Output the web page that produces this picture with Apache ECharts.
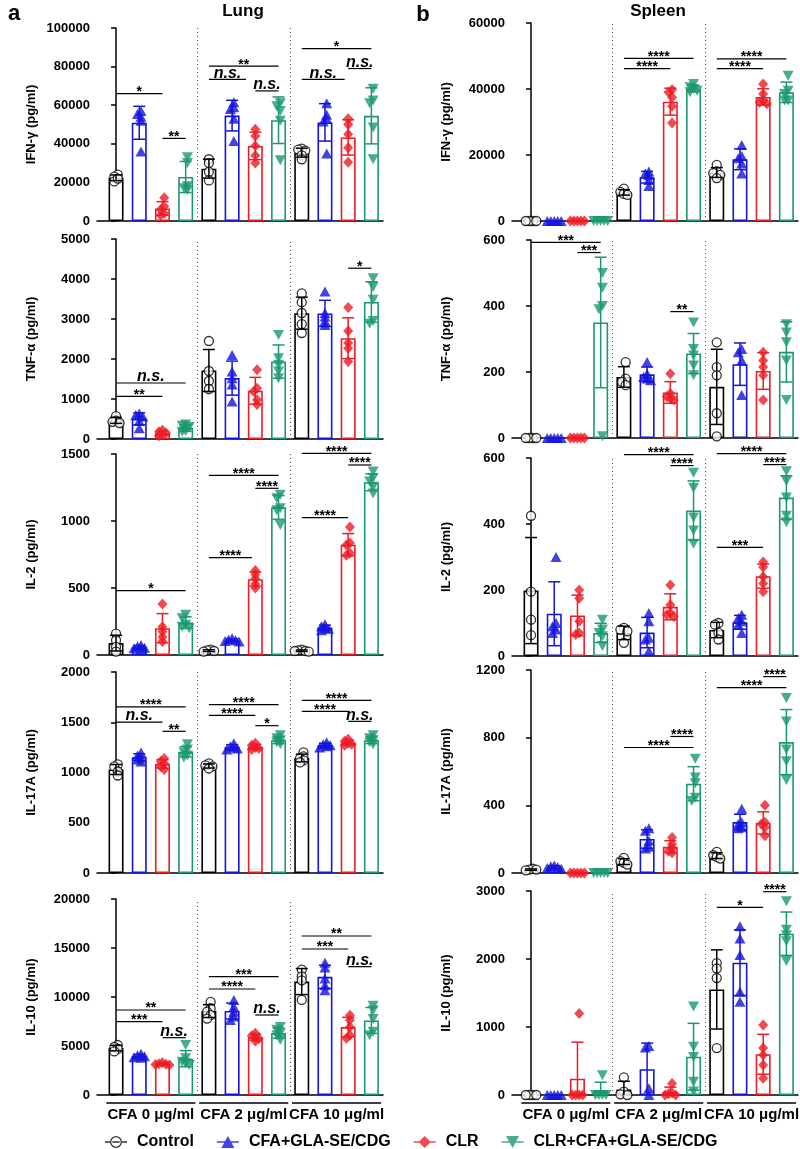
<!DOCTYPE html>
<html><head><meta charset="utf-8">
<script src="https://cdn.jsdelivr.net/npm/echarts@6/dist/echarts.min.js"></script>
<style>html,body{margin:0;padding:0;background:#fff}#c{width:800px;height:1149px}</style>
</head><body><div id="c"></div>
<script>
// ---------------- DATA ----------------
const groups = ['CFA 0 μg/ml', 'CFA 2 μg/ml', 'CFA 10 μg/ml'];
const treatments = ['Control', 'CFA+GLA-SE/CDG', 'CLR', 'CLR+CFA+GLA-SE/CDG'];
const organs = ['Lung', 'Spleen'];
const yNames = ['IFN-γ (pg/ml)', 'TNF-α (pg/ml)', 'IL-2 (pg/ml)', 'IL-17A (pg/ml)', 'IL-10 (pg/ml)'];
const lungYMax = [100000, 5000, 1500, 2000, 20000];
const lungYStep = [20000, 1000, 500, 500, 5000];
const spleenYMax = [60000, 600, 600, 1200, 3000];
const spleenYStep = [20000, 200, 200, 400, 1000];

// points per bar, order: [CFA0: Ctrl, CFA+GLA, CLR, CLR+CFA], [CFA2: ...], [CFA10: ...]
const lungIFNg = [
  [24000, 23000, 20500, 22000], [57000, 55500, 54000, 52000, 36000], [12000, 7500, 6000, 4000, 3000], [33000, 30000, 18000, 17000, 16000],
  [32000, 30000, 25500, 21000], [61500, 59000, 58000, 53000, 41500], [47500, 44000, 39000, 34000, 30000], [61000, 59500, 57000, 52000, 31500],
  [37500, 37000, 36500, 34000, 32000], [61000, 55000, 53000, 51500, 35000], [53000, 50000, 45000, 38000, 30500], [68500, 62500, 61000, 48500, 32000]
];
const spleenIFNg = [
  [0, 0, 0, 0], [0, 0, 0, 0, 0], [0, 0, 0, 0, 0], [0, 0, 0, 0, 0],
  [9800, 8800, 8200, 7900], [15000, 14400, 13900, 12400, 10600], [39800, 39000, 37500, 34800, 29700], [41500, 40500, 40000, 39500, 39000],
  [17000, 15000, 14500, 14000, 13000], [23000, 19700, 19000, 17400, 14400], [41500, 38500, 36500, 36000, 35500], [44000, 39500, 38500, 36500, 36500]
];
const lungTNFa = [
  [570, 460, 430, 400], [640, 600, 560, 450, 270], [220, 180, 150, 120, 80], [360, 330, 300, 200, 180],
  [2450, 1700, 1450, 1250], [2100, 1690, 1520, 1360, 940], [1730, 1270, 1190, 980, 860], [2600, 2020, 1850, 1690, 1520],
  [3640, 3420, 3150, 2870, 2650], [3690, 3150, 3060, 2950, 2850], [3290, 2700, 2400, 2270, 1940], [4020, 3800, 3480, 2950, 2880]
];
const spleenTNFa = [
  [0, 0, 0, 0], [0, 0, 0, 0, 0], [0, 0, 0, 0, 0], [500, 455, 400, 390, 5],
  [230, 180, 170, 160], [230, 195, 185, 180, 175], [195, 135, 125, 120, 115], [350, 270, 250, 220, 190],
  [290, 215, 190, 75, 5], [270, 260, 235, 130], [260, 235, 215, 190, 115], [345, 320, 290, 235, 115]
];
const lungIL2 = [
  [160, 110, 60, 25], [75, 65, 55, 50, 45], [380, 210, 175, 135, 100], [300, 275, 225, 210, 200],
  [40, 35, 30, 25], [125, 115, 110, 105, 100], [630, 600, 570, 530, 500], [1195, 1170, 1095, 1080, 970],
  [40, 35, 30, 30, 25], [230, 215, 200, 195, 185], [955, 835, 820, 760, 745], [1370, 1320, 1295, 1255, 1205]
];
const spleenIL2 = [
  [425, 195, 110, 63], [300, 100, 90, 80, 70], [200, 175, 105, 70, 65], [110, 80, 70, 60, 30],
  [85, 80, 75, 40], [130, 105, 55, 50, 15], [215, 155, 130, 125, 120], [555, 510, 420, 380, 340],
  [100, 95, 70, 50], [125, 115, 105, 95, 70], [285, 270, 240, 220, 195], [560, 530, 480, 425, 405]
];
const lungIL17A = [
  [1080, 1060, 1010, 970], [1200, 1170, 1150, 1130, 1110], [1140, 1110, 1090, 1060, 1030], [1280, 1230, 1200, 1170, 1150],
  [1090, 1070, 1060, 1040], [1290, 1260, 1250, 1240, 1230], [1290, 1270, 1250, 1240, 1230], [1370, 1340, 1320, 1300, 1280],
  [1200, 1160, 1140, 1120, 1100], [1300, 1280, 1270, 1260, 1250], [1330, 1310, 1290, 1280, 1270], [1370, 1340, 1320, 1300, 1280]
];
const spleenIL17A = [
  [25, 20, 20, 15], [45, 40, 35, 30, 25], [0, 0, 0, 0, 0], [0, 0, 0, 0, 0],
  [90, 70, 60, 50], [265, 250, 190, 155, 145], [210, 170, 145, 130, 120], [675, 565, 530, 445, 425],
  [125, 105, 95, 85], [380, 300, 290, 270, 265], [400, 300, 290, 270, 220], [1035, 895, 730, 660, 550]
];
const lungIL10 = [
  [5100, 4900, 4700, 4450], [4200, 4050, 3950, 3850, 3800], [3300, 3200, 3150, 3100, 3050], [5100, 3750, 3400, 3250, 3050],
  [9500, 8850, 8500, 8150, 7800], [9700, 9000, 8500, 8000, 7650], [6300, 6050, 5900, 5750, 5500], [6950, 6650, 6300, 6100, 5600],
  [12800, 12100, 11700, 9700], [13500, 13000, 11900, 11200, 10700], [8150, 7650, 6950, 6100, 5800], [9100, 8650, 7750, 6450, 6100]
];
const spleenIL10 = [
  [0, 0, 0, 0], [0, 0, 0, 0, 0], [1200, 0, 0, 0, 0], [290, 0, 0, 0, 0],
  [260, 50, 10, 0], [720, 700, 100, 0], [170, 30, 20, 0, 0], [1300, 710, 560, 195, 50],
  [1940, 1860, 1720, 690], [2480, 2300, 2060, 1520, 1370], [1030, 690, 590, 440, 245], [2850, 2430, 2350, 2260, 1970]
];

// significance brackets: [fromBar, toBar, level, label]
const lungIFNgSig = [[0, 2, 66000, '*'], [2, 3, 42800, '**'], [4, 7, 80200, '**'], [4, 5.6, 73400, 'n.s.'], [6, 7, 67400, 'n.s.'], [8, 11, 89300, '*'], [8, 9.85, 73400, 'n.s.'], [10, 11, 79000, 'n.s.']];
const spleenIFNgSig = [[4, 6, 46200, '****'], [4, 7, 49300, '****'], [8, 10, 46200, '****'], [8, 11, 49100, '****']];
const lungTNFaSig = [[0, 3, 1400, 'n.s.'], [0, 2, 1065, '**'], [10, 11, 4270, '*']];
const spleenTNFaSig = [[0, 3, 593, '***'], [2, 3, 562, '***'], [6, 7, 383, '**']];
const lungIL2Sig = [[0, 3, 480, '*'], [4, 5.85, 726, '****'], [4, 7, 1341, '****'], [6, 7, 1244, '****'], [8, 10, 1025, '****'], [8, 11, 1505, '****'], [10, 11, 1418, '****']];
const spleenIL2Sig = [[4, 7, 610, '****'], [6, 7, 577, '****'], [8, 10, 329, '***'], [8, 11, 613, '****'], [10, 11, 580, '****']];
const lungIL17ASig = [[0, 3, 1652, '****'], [0, 2, 1502, 'n.s.'], [2, 3, 1410, '**'], [4, 7, 1675, '****'], [4, 6, 1569, '****'], [6, 7, 1466, '*'], [8, 11, 1718, '****'], [8, 10, 1609, '****'], [10, 11, 1509, 'n.s.']];
const spleenIL17ASig = [[4, 7, 742, '****'], [6, 7, 807, '****'], [8, 11, 1096, '****'], [10, 11, 1161, '****']];
const lungIL10Sig = [[0, 3, 8673, '**'], [0, 2, 7483, '***'], [2, 3, 5850, 'n.s.'], [4, 7, 12075, '***'], [4, 6, 10816, '****'], [6, 7, 8163, 'n.s.'], [8, 11, 16224, '**'], [8, 10, 14898, '***'], [10, 11, 13095, 'n.s.']];
const spleenIL10Sig = [[8, 10, 2760, '*'], [10, 11, 2990, '****']];

// ---------------- LAYOUT / STYLE ----------------
const FONT = '"Liberation Sans", Arial, sans-serif';
const colors = ['#000000', '#1414dc', '#ee1c25', '#1a9870'];
const colLeft = [97, 512];
const gridW = 286;
const rowTB = [
  [[28, 221], [23, 221]],
  [[239, 439], [240, 438]],
  [[454, 655], [458, 656]],
  [[672, 873], [670, 873]],
  [[899, 1095], [891, 1095]]
];
const lungPts = [lungIFNg, lungTNFa, lungIL2, lungIL17A, lungIL10];
const spleenPts = [spleenIFNg, spleenTNFa, spleenIL2, spleenIL17A, spleenIL10];
const lungSig = [lungIFNgSig, lungTNFaSig, lungIL2Sig, lungIL17ASig, lungIL10Sig];
const spleenSig = [spleenIFNgSig, spleenTNFaSig, spleenIL2Sig, spleenIL17ASig, spleenIL10Sig];

const downTri = 'path://M0,0L10,0L5,9Z';
const symbols = ['circle', 'triangle', 'diamond', downTri];
const symSizes = [9, [11, 10], [10, 11], [11, 10]];

const legendIcons = [
  'path://M0,5.3H5V6.7H0Z M17,5.3H22V6.7H17Z M7.3,5.3H14.7V6.7H7.3Z M17,6A6,6 0 1 0 5,6A6,6 0 1 0 17,6Z M15.7,6A4.7,4.7 0 1 1 6.3,6A4.7,4.7 0 1 1 15.7,6Z',
  'path://M0,5.3H22V6.7H0Z M11,0L17.5,12L4.5,12Z',
  'path://M0,5.3H22V6.7H0Z M11,0L17,6L11,12L5,6Z',
  'path://M0,5.3H22V6.7H0Z M4.5,0L17.5,0L11,12Z'
];

function mean(a) { return a.reduce((s, v) => s + v, 0) / a.length; }
function sdev(a) {
  const m = mean(a);
  if (a.length < 2) return 0;
  return Math.sqrt(a.reduce((s, v) => s + (v - m) * (v - m), 0) / (a.length - 1));
}
// horizontal spread so overlapping points stay visible (pixel offsets only)
function swarm(vals, pxPer) {
  const order = vals.map((v, i) => i).sort((a, b) => vals[b] - vals[a]);
  const off = new Array(vals.length).fill(0);
  const placed = [];
  const cands = [0, -3.5, 3.5, -7, 7, -10.5, 10.5];
  order.forEach(i => {
    const y = vals[i] * pxPer;
    let chosen = 0;
    for (const c of cands) {
      if (placed.every(p => Math.hypot(p[0] - c, p[1] - y) >= 3.5)) { chosen = c; break; }
    }
    off[i] = chosen;
    placed.push([chosen, y]);
  });
  const mn = Math.min(...off), mx = Math.max(...off);
  const sh = (mn + mx) / 2;
  return off.map(o => o - sh);
}

const option = {
  animation: false,
  backgroundColor: '#fff',
  textStyle: { fontFamily: FONT },
  grid: [], xAxis: [], yAxis: [], series: [],
  legend: {
    left: 100, top: 1129, itemWidth: 22, itemHeight: 12, itemGap: 23, symbolRotate: 0,
    textStyle: { fontFamily: FONT, fontWeight: 'bold', fontSize: 16, color: '#000', padding: [0, 0, 0, 5] },
    data: treatments.map((n, t) => ({ name: n, icon: legendIcons[t], itemStyle: { color: colors[t], borderWidth: 0 } }))
  },
  graphic: [
    { type: 'text', x: 243, y: 11, style: { text: organs[0], align: 'center', verticalAlign: 'middle', textAlign: 'center', textVerticalAlign: 'middle', font: 'bold 17px ' + FONT, fill: '#000' } },
    { type: 'text', x: 658, y: 11, style: { text: organs[1], align: 'center', verticalAlign: 'middle', textAlign: 'center', textVerticalAlign: 'middle', font: 'bold 17px ' + FONT, fill: '#000' } },
    { type: 'text', x: 14, y: 14, style: { text: 'a', align: 'center', verticalAlign: 'middle', textAlign: 'center', textVerticalAlign: 'middle', font: 'bold 22px ' + FONT, fill: '#000' } },
    { type: 'text', x: 423, y: 15, style: { text: 'b', align: 'center', verticalAlign: 'middle', textAlign: 'center', textVerticalAlign: 'middle', font: 'bold 22px ' + FONT, fill: '#000' } }
  ]
};

const panels = [];
for (let r = 0; r < 5; r++) {
  panels.push({ col: 0, row: r, pts: lungPts[r], sig: lungSig[r], max: lungYMax[r], step: lungYStep[r], name: yNames[r] });
  panels.push({ col: 1, row: r, pts: spleenPts[r], sig: spleenSig[r], max: spleenYMax[r], step: spleenYStep[r], name: yNames[r] });
}

panels.forEach((P, i) => {
  const left = colLeft[P.col];
  const [top, bottom] = rowTB[P.row][P.col];
  option.grid.push({ left: left, top: top, width: gridW, height: bottom - top });
  option.xAxis.push({
    gridIndex: i, type: 'value', min: -0.82, max: 11.5,
    axisLine: { show: true, onZero: false, lineStyle: { color: '#000', width: 1.5 } },
    axisTick: { show: false }, axisLabel: { show: false }, splitLine: { show: false }
  });
  option.yAxis.push({
    gridIndex: i, type: 'value', min: 0, max: P.max, interval: P.step,
    name: P.name, nameLocation: 'middle', nameGap: 59,
    nameTextStyle: { fontWeight: 'bold', fontSize: 13, color: '#000', fontFamily: FONT },
    axisLine: { show: true, lineStyle: { color: '#000', width: 1.5 } },
    axisTick: { show: true, length: 5, lineStyle: { color: '#000', width: 1.5 } },
    axisLabel: { fontWeight: 'bold', fontSize: 13, color: '#000', margin: 7, fontFamily: FONT, formatter: v => String(v) },
    splitLine: { show: false }
  });
  const pxPer = (bottom - top) / P.max;

  // bars (mean of points)
  option.series.push({
    type: 'bar', xAxisIndex: i, yAxisIndex: i, barWidth: 15, z: 2, silent: true,
    data: P.pts.map((p, k) => ({ value: [k, mean(p)], itemStyle: { color: '#fff', borderColor: colors[k % 4], borderWidth: 1.6 } })),
    markLine: {
      silent: true, symbol: ['none', 'none'], label: { show: false },
      lineStyle: { color: '#555', type: [1, 3], width: 1 },
      data: [{ xAxis: 3.5 }, { xAxis: 7.5 }]
    }
  });

  // individual points
  treatments.forEach((name, t) => {
    const data = [];
    P.pts.forEach((p, k) => {
      if (k % 4 !== t) return;
      const offs = swarm(p, pxPer);
      p.forEach((v, j) => data.push({ value: [k, v], symbolOffset: [offs[j], 0] }));
    });
    option.series.push({
      type: 'scatter', name: name, xAxisIndex: i, yAxisIndex: i, z: 4, silent: true,
      symbol: symbols[t], symbolSize: symSizes[t],
      itemStyle: t === 0 ? { color: '#fff', borderColor: '#000', borderWidth: 1.3 } : { color: colors[t] },
      data: data
    });
  });

  // error bars (mean ± SD)
  option.series.push({
    type: 'custom', xAxisIndex: i, yAxisIndex: i, z: 5, silent: true, clip: false,
    data: P.pts.map((p, k) => [k, mean(p), sdev(p), k % 4]),
    renderItem: (params, api) => {
      const k = api.value(0), m = api.value(1), s = api.value(2), c = colors[api.value(3)];
      if (!(s > 0)) return { type: 'group', children: [] };
      const lo = Math.max(0, m - s);
      const pt = api.coord([k, m + s]), pb = api.coord([k, lo]);
      const st = { stroke: c, lineWidth: 1.5 };
      const ch = [
        { type: 'line', shape: { x1: pt[0], y1: pt[1], x2: pb[0], y2: pb[1] }, style: st },
        { type: 'line', shape: { x1: pt[0] - 6, y1: pt[1], x2: pt[0] + 6, y2: pt[1] }, style: st }
      ];
      if (m - s > 0) ch.push({ type: 'line', shape: { x1: pb[0] - 6, y1: pb[1], x2: pb[0] + 6, y2: pb[1] }, style: st });
      return { type: 'group', children: ch };
    }
  });

  // significance brackets
  option.series.push({
    type: 'custom', xAxisIndex: i, yAxisIndex: i, z: 6, silent: true, clip: false,
    data: P.sig.map(s => [s[0], s[2], s[1]]),
    renderItem: (params, api) => {
      const s = P.sig[params.dataIndex];
      const a = api.coord([s[0], s[2]]), b = api.coord([s[1], s[2]]);
      const ns = s[3] === 'n.s.';
      return {
        type: 'group', children: [
          { type: 'line', shape: { x1: a[0], y1: a[1], x2: b[0], y2: b[1] }, style: { stroke: '#000', lineWidth: 1.2 } },
          { type: 'text', style: {
              text: s[3], x: (a[0] + b[0]) / 2, y: a[1] - (ns ? 6 : 1.5),
              align: 'center', verticalAlign: 'middle', textAlign: 'center', textVerticalAlign: 'middle',
              font: ns ? 'italic bold 16px ' + FONT : 'bold 14px ' + FONT, fill: '#000' } }
        ]
      };
    }
  });

  // group labels under the bottom panels
  if (P.row === 4) {
    option.series.push({
      type: 'custom', xAxisIndex: i, yAxisIndex: i, z: 6, silent: true, clip: false,
      data: groups.map((g, gi) => [gi * 4 + 1.5, 0]),
      renderItem: (params, api) => {
        const gi = params.dataIndex;
        const a = api.coord([gi * 4 - 0.42, 0]), b = api.coord([gi * 4 + 3.42, 0]);
        const y = a[1] + 8;
        return {
          type: 'group', children: [
            { type: 'line', shape: { x1: a[0], y1: y, x2: b[0], y2: y }, style: { stroke: '#000', lineWidth: 1.3 } },
            { type: 'text', style: {
                text: groups[gi], x: (a[0] + b[0]) / 2, y: y + 12,
                align: 'center', verticalAlign: 'middle', textAlign: 'center', textVerticalAlign: 'middle',
                font: 'bold 15px ' + FONT, fill: '#000' } }
          ]
        };
      }
    });
  }
});

const chart = echarts.init(document.getElementById('c'), null, { renderer: 'canvas' });
chart.setOption(option);
</script></body></html>
